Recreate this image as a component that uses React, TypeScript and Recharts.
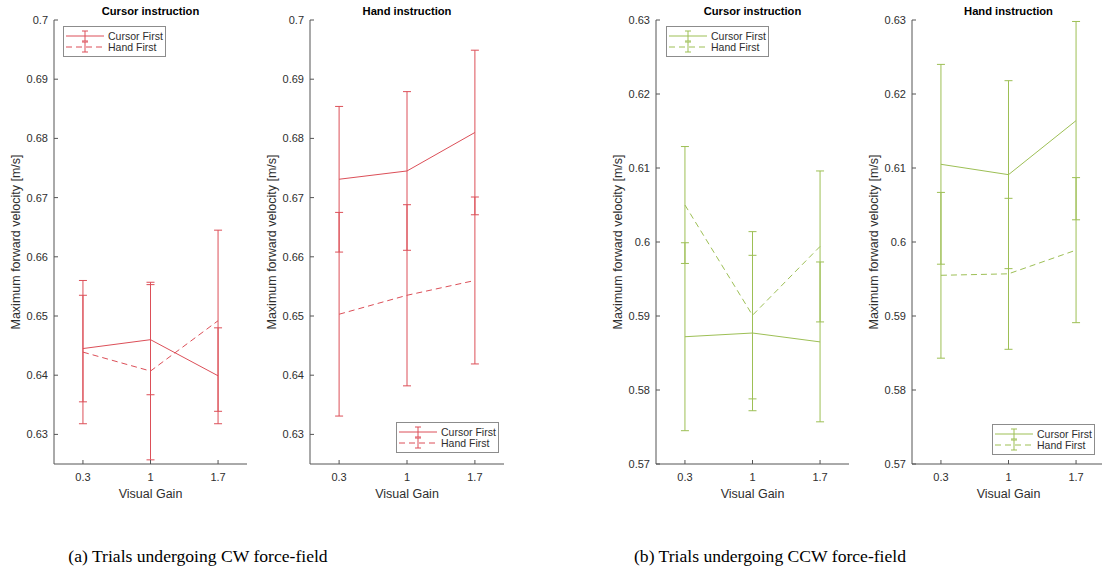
import React from 'react';
import { LineChart, Line, XAxis, YAxis, ErrorBar } from 'recharts';

// ---------- data ----------
const gains = [0.3, 1, 1.7];
const gainTicks = [0.3, 1, 1.7];
const cwTicks = [0.63, 0.64, 0.65, 0.66, 0.67, 0.68, 0.69, 0.7];
const ccwTicks = [0.57, 0.58, 0.59, 0.6, 0.61, 0.62, 0.63];
const cwDomain = [0.625, 0.7];
const ccwDomain = [0.57, 0.63];

const seriesNames = ['Cursor First', 'Hand First'];
const panelTitles = ['Cursor instruction', 'Hand instruction'];
const captions = ['(a) Trials undergoing CW force-field', '(b) Trials undergoing CCW force-field'];

// CW force-field, Cursor instruction
const cwCurCursorFirst = [0.6445, 0.646, 0.6399];
const cwCurCursorFirstErr = [0.009, 0.0093, 0.0081];
const cwCurHandFirst = [0.6439, 0.6407, 0.6492];
const cwCurHandFirstErr = [0.0121, 0.015, 0.0153];

// CW force-field, Hand instruction
const cwHandCursorFirst = [0.6731, 0.6745, 0.681];
const cwHandCursorFirstErr = [0.0123, 0.0134, 0.0139];
const cwHandHandFirst = [0.6503, 0.6535, 0.656];
const cwHandHandFirstErr = [0.0172, 0.0153, 0.0141];

// CCW force-field, Cursor instruction
const ccwCurCursorFirst = [0.5872, 0.5877, 0.5865];
const ccwCurCursorFirstErr = [0.0127, 0.0105, 0.0108];
const ccwCurHandFirst = [0.605, 0.5901, 0.5994];
const ccwCurHandFirstErr = [0.0079, 0.0113, 0.0102];

// CCW force-field, Hand instruction
const ccwHandCursorFirst = [0.6105, 0.6091, 0.6164];
const ccwHandCursorFirstErr = [0.0135, 0.0127, 0.0134];
const ccwHandHandFirst = [0.5955, 0.5957, 0.5989];
const ccwHandHandFirstErr = [0.0112, 0.0102, 0.0098];

const RED = '#DC4F58';
const GREEN = '#9DBF55';
const AXIS = '#555555';
const TEXT = '#2e2e2e';
const SANS = '"Liberation Sans", Arial, sans-serif';

function buildRows(cf: number[], cfErr: number[], hf: number[], hfErr: number[]) {
  return gains.map((g, i) => ({ gain: g, cf: cf[i], cfErr: cfErr[i], hf: hf[i], hfErr: hfErr[i] }));
}

const fmt = (v: number) => String(Number(v.toFixed(2)));

type LegendProps = { left: number; top: number; color: string };
function LegendBox({ left, top, color }: LegendProps) {
  const rows = [10, 21];
  return (
    <svg width={103} height={31} style={{ position: 'absolute', left, top }}>
      <rect x={0.5} y={0.5} width={102} height={30} fill="#fff" stroke="#8c8c8c" strokeWidth={1} />
      {rows.map((y, i) => (
        <g key={i}>
          <line x1={3} x2={41} y1={y} y2={y} stroke={color} strokeWidth={1} strokeDasharray={i === 1 ? '6 4' : undefined} />
          <line x1={22} x2={22} y1={y - 5} y2={y + 5} stroke={color} strokeWidth={1} />
          <line x1={19} x2={25} y1={y - 5} y2={y - 5} stroke={color} strokeWidth={1} />
          <line x1={19} x2={25} y1={y + 5} y2={y + 5} stroke={color} strokeWidth={1} />
          <text x={45} y={y + 3.7} fontSize={10.5} fontFamily={SANS} fill={TEXT}>
            {seriesNames[i]}
          </text>
        </g>
      ))}
    </svg>
  );
}

type PanelProps = {
  plotLeft: number;
  plotWidth: number;
  rows: any[];
  domain: number[];
  ticks: number[];
  color: string;
  title: string;
  legendLeft: number;
  legendTop: number;
};

function Panel({ plotLeft, plotWidth, rows, domain, ticks, color, title, legendLeft, legendTop }: PanelProps) {
  const yAxisW = 60;
  const W = yAxisW + plotWidth + 4;
  return (
    <>
      <div style={{ position: 'absolute', left: plotLeft - yAxisW, top: 0 }}>
        <LineChart width={W} height={520} data={rows} margin={{ top: 20, right: 4, left: 0, bottom: 16 }}>
          <XAxis
            dataKey="gain"
            type="number"
            domain={[0, 2]}
            ticks={gainTicks}
            tickFormatter={fmt}
            allowDataOverflow
            height={40}
            tickSize={-4}
            tickMargin={13}
            stroke={AXIS}
            tick={{ fill: TEXT, fontSize: 11, fontFamily: SANS }}
            label={{ value: 'Visual Gain', position: 'insideBottom', offset: 6, fill: TEXT, fontSize: 12.5, fontFamily: SANS }}
          />
          <YAxis
            type="number"
            domain={domain}
            ticks={ticks}
            tickFormatter={fmt}
            allowDataOverflow
            width={yAxisW}
            tickSize={-4}
            tickMargin={10}
            stroke={AXIS}
            tick={{ fill: TEXT, fontSize: 11, fontFamily: SANS }}
            label={{
              value: 'Maximum forward velocity [m/s]',
              angle: -90,
              position: 'insideLeft',
              offset: 22,
              fill: TEXT,
              fontSize: 12.5,
              fontFamily: SANS,
              style: { textAnchor: 'middle' },
            }}
          />
          <Line dataKey="cf" type="linear" stroke={color} strokeWidth={1} dot={false} activeDot={false} isAnimationActive={false}>
            <ErrorBar dataKey="cfErr" direction="y" width={4} stroke={color} strokeWidth={1} isAnimationActive={false} />
          </Line>
          <Line dataKey="hf" type="linear" stroke={color} strokeWidth={1} strokeDasharray="6 4" dot={false} activeDot={false} isAnimationActive={false}>
            <ErrorBar dataKey="hfErr" direction="y" width={4} stroke={color} strokeWidth={1} isAnimationActive={false} />
          </Line>
        </LineChart>
      </div>
      <div
        style={{
          position: 'absolute',
          left: plotLeft,
          width: plotWidth,
          top: 5,
          textAlign: 'center',
          fontFamily: SANS,
          fontWeight: 'bold',
          fontSize: 11.2,
          lineHeight: '12px',
          color: '#000',
        }}
      >
        {title}
      </div>
      <LegendBox left={legendLeft} top={legendTop} color={color} />
    </>
  );
}

export default function App() {
  const captionStyle: React.CSSProperties = {
    position: 'absolute',
    top: 545,
    width: 400,
    textAlign: 'center',
    fontFamily: '"Liberation Serif", "DejaVu Serif", serif',
    fontSize: 17.6,
    lineHeight: '22px',
    color: '#000',
  };
  return (
    <div style={{ position: 'absolute', left: 0, top: 0, width: 1102, height: 582, overflow: 'hidden', background: '#fff' }}>
      <Panel
        plotLeft={54}
        plotWidth={193}
        rows={buildRows(cwCurCursorFirst, cwCurCursorFirstErr, cwCurHandFirst, cwCurHandFirstErr)}
        domain={cwDomain}
        ticks={cwTicks}
        color={RED}
        title={panelTitles[0]}
        legendLeft={63}
        legendTop={26}
      />
      <Panel
        plotLeft={310}
        plotWidth={194}
        rows={buildRows(cwHandCursorFirst, cwHandCursorFirstErr, cwHandHandFirst, cwHandHandFirstErr)}
        domain={cwDomain}
        ticks={cwTicks}
        color={RED}
        title={panelTitles[1]}
        legendLeft={396}
        legendTop={422}
      />
      <Panel
        plotLeft={656}
        plotWidth={193}
        rows={buildRows(ccwCurCursorFirst, ccwCurCursorFirstErr, ccwCurHandFirst, ccwCurHandFirstErr)}
        domain={ccwDomain}
        ticks={ccwTicks}
        color={GREEN}
        title={panelTitles[0]}
        legendLeft={666}
        legendTop={26}
      />
      <Panel
        plotLeft={912}
        plotWidth={193}
        rows={buildRows(ccwHandCursorFirst, ccwHandCursorFirstErr, ccwHandHandFirst, ccwHandHandFirstErr)}
        domain={ccwDomain}
        ticks={ccwTicks}
        color={GREEN}
        title={panelTitles[1]}
        legendLeft={992}
        legendTop={424}
      />
      <div style={{ ...captionStyle, left: 198 - 200 }}>{captions[0]}</div>
      <div style={{ ...captionStyle, left: 770 - 200 }}>{captions[1]}</div>
    </div>
  );
}
